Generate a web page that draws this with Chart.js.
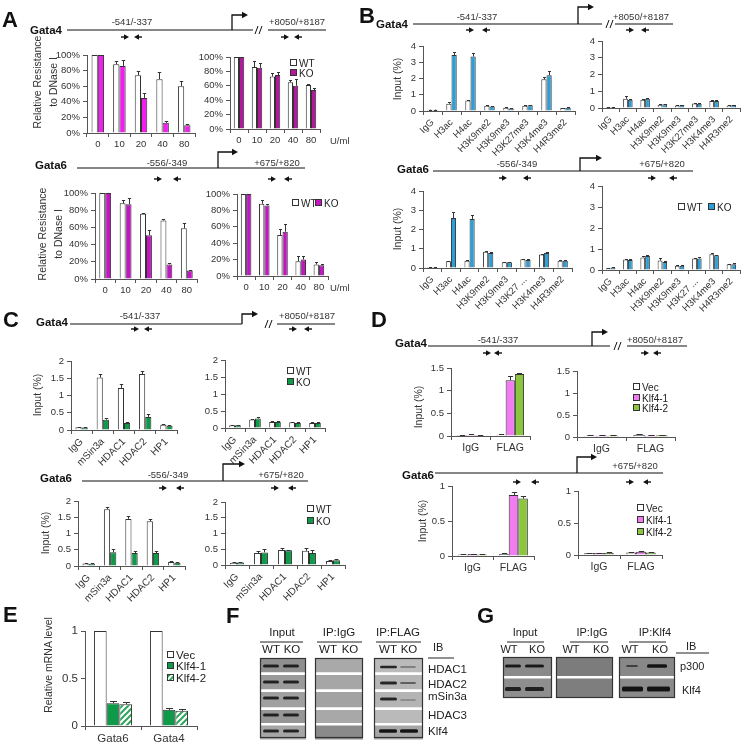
<!DOCTYPE html>
<html><head><meta charset="utf-8">
<script src="https://cdn.jsdelivr.net/npm/chart.js@4.4.1/dist/chart.umd.min.js"></script>
<style>
html,body{margin:0;padding:0;background:#fff;}
#stage{position:relative;width:756px;height:746px;overflow:hidden;background:#fff;}
#stage canvas{position:absolute;}
#ov{position:absolute;left:0;top:0;z-index:5;}
</style></head><body><div id="stage"></div>
<script>
// ---------- DATA ----------
const doseLabels = ['0','10','20','40','80'];
// Panel A: DNase I resistance (%)
const aG4promWT = [100, 88, 74, 69, 60];   const aG4promWTerr = [0, 4, 5, 9, 7];
const aG4promKO = [100, 86, 45, 13, 10];   const aG4promKOerr = [0, 8, 6, 3, 2];
const aG4enhWT  = [100, 86, 73, 65, 61];   const aG4enhWTerr  = [0, 8, 5, 3, 2];
const aG4enhKO  = [100, 85, 75, 60, 54];   const aG4enhKOerr  = [0, 6, 4, 10, 3];
const aG6promWT = [100, 88, 76, 68, 59];   const aG6promWTerr = [0, 4, 1, 2, 6];
const aG6promKO = [100, 87, 51, 17, 10];   const aG6promKOerr = [0, 7, 6, 2, 1];
const aG6enhWT  = [100, 88, 50, 18, 14];   const aG6enhWTerr  = [0, 5, 7, 6, 3];
const aG6enhKO  = [100, 86, 54, 20, 13];   const aG6enhKOerr  = [0, 2, 10, 4, 2];
// Panel B: histone ChIP (Input %)
const histMarks   = ['IgG','H3ac','H4ac','H3K9me2','H3K9me3','H3K27me3','H3K4me3','H4R3me2'];
const histMarksG6 = ['IgG','H3ac','H4ac','H3K9me2','H3K9me3','H3K27 ...','H3K4me3','H4R3me2'];
const bG4promWT = [0.08,0.45,0.65,0.32,0.20,0.32,1.95,0.18]; const bG4promWTerr = [0.01,0.10,0.05,0.03,0.02,0.02,0.15,0.02];
const bG4promKO = [0.08,3.45,3.35,0.28,0.15,0.35,2.20,0.20]; const bG4promKOerr = [0.01,0.20,0.20,0.02,0.02,0.02,0.25,0.02];
const bG4enhWT  = [0.06,0.55,0.50,0.20,0.15,0.27,0.42,0.15]; const bG4enhWTerr  = [0.01,0.15,0.05,0.02,0.02,0.02,0.05,0.02];
const bG4enhKO  = [0.06,0.50,0.55,0.22,0.18,0.25,0.42,0.18]; const bG4enhKOerr  = [0.01,0.05,0.05,0.02,0.02,0.02,0.08,0.02];
const bG6promWT = [0.05,0.35,0.38,0.85,0.30,0.45,0.70,0.38]; const bG6promWTerr = [0.01,0.03,0.03,0.03,0.03,0.03,0.03,0.03];
const bG6promKO = [0.05,2.60,2.55,0.78,0.30,0.42,0.78,0.38]; const bG6promKOerr = [0.01,0.30,0.22,0.03,0.03,0.03,0.03,0.04];
const bG6enhWT  = [0.08,0.50,0.60,0.45,0.20,0.55,0.75,0.27]; const bG6enhWTerr  = [0.01,0.03,0.08,0.10,0.02,0.04,0.04,0.03];
const bG6enhKO  = [0.12,0.48,0.67,0.38,0.20,0.55,0.70,0.27]; const bG6enhKOerr  = [0.02,0.03,0.04,0.04,0.02,0.08,0.03,0.05];
// Panel C: corepressor ChIP (Input %)
const coreps = ['IgG','mSin3a','HDAC1','HDAC2','HP1'];
const cG4promWT = [0.08,1.52,1.22,1.62,0.15]; const cG4promWTerr = [0.01,0.10,0.10,0.10,0.03];
const cG4promKO = [0.07,0.30,0.20,0.38,0.12]; const cG4promKOerr = [0.01,0.05,0.03,0.08,0.03];
const cG4enhWT  = [0.08,0.25,0.18,0.17,0.15]; const cG4enhWTerr  = [0.01,0.02,0.02,0.02,0.03];
const cG4enhKO  = [0.08,0.28,0.18,0.15,0.15]; const cG4enhKOerr  = [0.01,0.05,0.02,0.03,0.03];
const cG6promWT = [0.08,1.75,1.45,1.38,0.12]; const cG6promWTerr = [0.01,0.08,0.10,0.08,0.02];
const cG6promKO = [0.07,0.42,0.40,0.40,0.10]; const cG6promKOerr = [0.01,0.10,0.05,0.06,0.02];
const cG6enhWT  = [0.07,0.38,0.48,0.45,0.13]; const cG6enhWTerr  = [0.01,0.05,0.07,0.08,0.02];
const cG6enhKO  = [0.08,0.40,0.47,0.38,0.15]; const cG6enhKOerr  = [0.02,0.12,0.02,0.10,0.04];
// Panel D: FLAG ChIP (Input %)
const dAbs = ['IgG','FLAG'];
const dG4promVec = [0.02,0.03]; const dG4promVecErr = [0.005,0.01];
const dG4promK1  = [0.03,1.23]; const dG4promK1Err  = [0.005,0.10];
const dG4promK2  = [0.02,1.37]; const dG4promK2Err  = [0.005,0.03];
const dG4enhVec  = [0.03,0.05]; const dG4enhVecErr  = [0.005,0.01];
const dG4enhK1   = [0.03,0.03]; const dG4enhK1Err   = [0.005,0.005];
const dG4enhK2   = [0.03,0.04]; const dG4enhK2Err   = [0.005,0.005];
const dG6promVec = [0.02,0.03]; const dG6promVecErr = [0.005,0.02];
const dG6promK1  = [0.03,0.87]; const dG6promK1Err  = [0.005,0.05];
const dG6promK2  = [0.02,0.82]; const dG6promK2Err  = [0.005,0.04];
const dG6enhVec  = [0.03,0.04]; const dG6enhVecErr  = [0.005,0.005];
const dG6enhK1   = [0.03,0.05]; const dG6enhK1Err   = [0.005,0.005];
const dG6enhK2   = [0.03,0.04]; const dG6enhK2Err   = [0.01,0.005];
// Panel E: relative mRNA
const eGenes = ['Gata6','Gata4'];
const eVec = [1.0, 1.0];
const eK1 = [0.24, 0.17]; const eK1Err = [0.02, 0.02];
const eK2 = [0.23, 0.16]; const eK2Err = [0.02, 0.02];

// ---------- DRAWING ----------
const FF = '"Liberation Sans", Arial, Helvetica, sans-serif';
Chart.defaults.font.family = FF;
const stage = document.getElementById('stage');
const AX = '#555';
const WHITE = '#ffffff';

const errPlugin = {
  id: 'errbars',
  afterDatasetsDraw(chart) {
    const ctx = chart.ctx, ys = chart.scales.y;
    chart.data.datasets.forEach((ds, i) => {
      if (!ds.errors) return;
      const meta = chart.getDatasetMeta(i);
      meta.data.forEach((bar, j) => {
        const e = ds.errors[j];
        if (!e) return;
        const top = Math.round(ys.getPixelForValue(ds.data[j] + e)) + 0.5;
        const x = Math.round(bar.x) + 0.5;
        const w = Math.max(3, bar.width * 0.55);
        ctx.save();
        ctx.strokeStyle = '#333'; ctx.lineWidth = 1;
        ctx.beginPath();
        ctx.moveTo(x, bar.y); ctx.lineTo(x, top);
        ctx.moveTo(x - w / 2, top); ctx.lineTo(x + w / 2, top);
        ctx.stroke();
        ctx.restore();
      });
    });
  }
};

function mk(geom, labels, sets, o) {
  const [x0, yt, x1, yb] = geom;
  const yw = 46, padT = 10, padR = 16, xh = o.xh || 28;
  const W = x1 - x0 + yw + padR, H = yb - yt + padT + xh;
  const c = document.createElement('canvas');
  c.width = W; c.height = H;
  c.style.left = (x0 - yw) + 'px'; c.style.top = (yt - padT) + 'px';
  c.style.width = W + 'px'; c.style.height = H + 'px';
  stage.appendChild(c);
  const tf = o.tfs || 9.5;
  return new Chart(c, {
    type: 'bar',
    data: {
      labels: labels,
      datasets: sets.map(s => ({
        label: s.label, data: s.data, errors: s.err,
        backgroundColor: s.color, borderColor: '#333', borderWidth: 1,
        borderSkipped: 'start',
        categoryPercentage: o.cat, barPercentage: 1
      }))
    },
    options: {
      responsive: false, animation: false, devicePixelRatio: 1,
      layout: { padding: { left: 0, top: padT, right: padR, bottom: 0 } },
      plugins: { legend: { display: false }, tooltip: { enabled: false } },
      scales: {
        x: {
          grid: { display: true, drawOnChartArea: false, drawTicks: true, tickLength: 4, color: AX, offset: true },
          border: { color: AX, width: 1 },
          ticks: { font: { size: o.xfs || tf, family: FF }, color: '#333', maxRotation: o.rot || 0, minRotation: o.rot || 0, autoSkip: false, padding: 2 },
          afterFit: s => { s.height = xh; s.paddingLeft = 0; s.paddingRight = 0; }
        },
        y: {
          min: 0, max: o.max,
          grid: { display: true, drawOnChartArea: false, drawTicks: true, tickLength: 4, color: AX },
          border: { color: AX, width: 1 },
          ticks: { stepSize: o.step, font: { size: tf, family: FF }, color: '#333', padding: 3,
                   callback: o.fmt || (v => String(v)) },
          afterFit: s => { s.width = yw; s.paddingTop = 0; s.paddingBottom = 0; }
        }
      }
    },
    plugins: [errPlugin]
  });
}

const pct = v => v + '%';
// colours
const magL = '#f01ff0', magR = '#b4189e', mag6 = '#c414c4';
const blue = '#2b9fd8', green = '#0f9a4a', pink = '#f07cf0', lime = '#8cc63f';

// Panel A
mk([87, 55, 195, 133], doseLabels, [
  { label: 'WT', data: aG4promWT, err: aG4promWTerr, color: WHITE },
  { label: 'KO', data: aG4promKO, err: aG4promKOerr, color: magL }], { max: 100, step: 20, fmt: pct, cat: 0.58 });
mk([230, 57, 320, 129], doseLabels, [
  { label: 'WT', data: aG4enhWT, err: aG4enhWTerr, color: WHITE },
  { label: 'KO', data: aG4enhKO, err: aG4enhKOerr, color: magR }], { max: 100, step: 20, fmt: pct, cat: 0.58 });
mk([95, 193, 197, 279], doseLabels, [
  { label: 'WT', data: aG6promWT, err: aG6promWTerr, color: WHITE },
  { label: 'KO', data: aG6promKO, err: aG6promKOerr, color: mag6 }], { max: 100, step: 20, fmt: pct, cat: 0.58 });
mk([237, 194, 328, 276], doseLabels, [
  { label: 'WT', data: aG6enhWT, err: aG6enhWTerr, color: WHITE },
  { label: 'KO', data: aG6enhKO, err: aG6enhKOerr, color: mag6 }], { max: 100, step: 20, fmt: pct, cat: 0.58 });

// Panel B
mk([423, 46, 575, 111], histMarks, [
  { label: 'WT', data: bG4promWT, err: bG4promWTerr, color: WHITE },
  { label: 'KO', data: bG4promKO, err: bG4promKOerr, color: blue }], { max: 4, step: 1, cat: 0.55, rot: 45, xh: 52, xfs: 9.5 });
mk([602, 41, 740, 108], histMarks, [
  { label: 'WT', data: bG4enhWT, err: bG4enhWTerr, color: WHITE },
  { label: 'KO', data: bG4enhKO, err: bG4enhKOerr, color: blue }], { max: 4, step: 1, cat: 0.55, rot: 45, xh: 52, xfs: 9.5 });
mk([423, 191, 572, 268], histMarksG6, [
  { label: 'WT', data: bG6promWT, err: bG6promWTerr, color: WHITE },
  { label: 'KO', data: bG6promKO, err: bG6promKOerr, color: blue }], { max: 4, step: 1, cat: 0.55, rot: 45, xh: 52, xfs: 9.5 });
mk([602, 186, 740, 270], histMarksG6, [
  { label: 'WT', data: bG6enhWT, err: bG6enhWTerr, color: WHITE },
  { label: 'KO', data: bG6enhKO, err: bG6enhKOerr, color: blue }], { max: 4, step: 1, cat: 0.55, rot: 45, xh: 52, xfs: 9.5 });

// Panel C
mk([71, 361, 177, 430], coreps, [
  { label: 'WT', data: cG4promWT, err: cG4promWTerr, color: WHITE },
  { label: 'KO', data: cG4promKO, err: cG4promKOerr, color: green }], { max: 2, step: 0.5, cat: 0.58, rot: 45, xh: 44, xfs: 10 });
mk([225, 360, 325, 428], coreps, [
  { label: 'WT', data: cG4enhWT, err: cG4enhWTerr, color: WHITE },
  { label: 'KO', data: cG4enhKO, err: cG4enhKOerr, color: green }], { max: 2, step: 0.5, cat: 0.58, rot: 45, xh: 44, xfs: 10 });
mk([78, 501, 185, 566], coreps, [
  { label: 'WT', data: cG6promWT, err: cG6promWTerr, color: WHITE },
  { label: 'KO', data: cG6promKO, err: cG6promKOerr, color: green }], { max: 2, step: 0.5, cat: 0.58, rot: 45, xh: 44, xfs: 10 });
mk([225, 502, 345, 565], coreps, [
  { label: 'WT', data: cG6enhWT, err: cG6enhWTerr, color: WHITE },
  { label: 'KO', data: cG6enhKO, err: cG6enhKOerr, color: green }], { max: 2, step: 0.5, cat: 0.58, rot: 45, xh: 44, xfs: 10 });

// Panel D
mk([451, 368, 530, 436], dAbs, [
  { label: 'Vec', data: dG4promVec, err: dG4promVecErr, color: WHITE },
  { label: 'Klf4-1', data: dG4promK1, err: dG4promK1Err, color: pink },
  { label: 'Klf4-2', data: dG4promK2, err: dG4promK2Err, color: lime }], { max: 1.5, step: 0.5, cat: 0.7, xfs: 10.5 });
mk([577, 371, 675, 437], dAbs, [
  { label: 'Vec', data: dG4enhVec, err: dG4enhVecErr, color: WHITE },
  { label: 'Klf4-1', data: dG4enhK1, err: dG4enhK1Err, color: pink },
  { label: 'Klf4-2', data: dG4enhK2, err: dG4enhK2Err, color: lime }], { max: 1.5, step: 0.5, cat: 0.7, xfs: 10.5 });
mk([452, 486, 534, 556], dAbs, [
  { label: 'Vec', data: dG6promVec, err: dG6promVecErr, color: WHITE },
  { label: 'Klf4-1', data: dG6promK1, err: dG6promK1Err, color: pink },
  { label: 'Klf4-2', data: dG6promK2, err: dG6promK2Err, color: lime }], { max: 1, step: 0.5, cat: 0.7, xfs: 10.5 });
mk([578, 491, 662, 555], dAbs, [
  { label: 'Vec', data: dG6enhVec, err: dG6enhVecErr, color: WHITE },
  { label: 'Klf4-1', data: dG6enhK1, err: dG6enhK1Err, color: pink },
  { label: 'Klf4-2', data: dG6enhK2, err: dG6enhK2Err, color: lime }], { max: 1, step: 0.5, cat: 0.7, xfs: 10.5 });

// Panel E (hatched pattern for Klf4-2)
function hatch() {
  const p = document.createElement('canvas'); p.width = 6; p.height = 6;
  const g = p.getContext('2d');
  g.fillStyle = '#fff'; g.fillRect(0, 0, 6, 6);
  g.strokeStyle = '#2aa65a'; g.lineWidth = 2;
  g.beginPath();
  g.moveTo(0, 6); g.lineTo(6, 0);
  g.moveTo(-3, 3); g.lineTo(3, -3);
  g.moveTo(3, 9); g.lineTo(9, 3);
  g.stroke();
  return g.createPattern(p, 'repeat');
}
mk([85, 631, 197, 726], eGenes, [
  { label: 'Vec', data: eVec, err: null, color: WHITE },
  { label: 'Klf4-1', data: eK1, err: eK1Err, color: green },
  { label: 'Klf4-2', data: eK2, err: eK2Err, color: hatch() }], { max: 1, step: 0.5, cat: 0.68, tfs: 11.5, xfs: 11.5 });

// ---------- SVG overlay: labels, gene maps, legends, blots ----------
const S = [];
function T(x, y, s, o) {
  o = o || {};
  S.push(`<text x="${x}" y="${y}" font-size="${o.fs || 10}"${o.b ? ' font-weight="bold"' : ''} text-anchor="${o.a || 'start'}" fill="${o.c || '#222'}">${s}</text>`);
}
function VT(cx, cy, lines, fs) {
  const lh = fs * 1.45;
  const n = lines.length;
  lines.forEach((ln, i) => {
    const x = cx + (i - (n - 1) / 2) * lh;
    S.push(`<text x="0" y="0" font-size="${fs}" text-anchor="middle" dominant-baseline="central" fill="#333" transform="translate(${x},${cy}) rotate(-90)">${ln}</text>`);
  });
}
function L(x1, y1, x2, y2, w, c) {
  S.push(`<line x1="${x1}" y1="${y1}" x2="${x2}" y2="${y2}" stroke="${c || '#111'}" stroke-width="${w || 1.2}"/>`);
}
function prom(x, y, top, end) {
  S.push(`<path d="M${x} ${y} V${top} H${end - 4}" fill="none" stroke="#111" stroke-width="1.3"/>`);
  S.push(`<polygon points="${end - 6},${top - 3.2} ${end},${top} ${end - 6},${top + 3.2}" fill="#111"/>`);
}
function prR(cx, cy) {
  L(cx - 4, cy, cx, cy, 1.4);
  S.push(`<polygon points="${cx - 1},${cy - 2.8} ${cx + 4},${cy} ${cx - 1},${cy + 2.8}" fill="#111"/>`);
}
function prL(cx, cy) {
  L(cx + 4, cy, cx, cy, 1.4);
  S.push(`<polygon points="${cx + 1},${cy - 2.8} ${cx - 4},${cy} ${cx + 1},${cy + 2.8}" fill="#111"/>`);
}
function brk(x, y) { L(x, y + 4, x + 3, y - 4, 1); L(x + 4, y + 4, x + 7, y - 4, 1); }
function leg(x, y, items, horiz, fs) {
  fs = fs || 10;
  let cx = x, cy = y;
  items.forEach(it => {
    S.push(`<rect x="${cx + 0.5}" y="${cy - 3.5}" width="6" height="6" fill="${it.c}" stroke="#333" stroke-width="1"/>`);
    T(cx + 9, cy + fs * 0.36, it.t, { fs: fs });
    if (horiz) cx += it.w; else cy += it.dy;
  });
}
const G = (x, y, s) => T(x, y, s, { fs: 11.5, b: true, c: '#111' });
const PL = (x, y, s) => T(x, y, s, { fs: 22, b: true, c: '#111' });
const SM = (cx, y, s) => T(cx, y, s, { fs: 9.5, a: 'middle', c: '#333' });

// Panel letters
PL(2, 27, 'A'); PL(359, 23, 'B'); PL(3, 327, 'C'); PL(371, 327, 'D');
PL(3, 622, 'E'); PL(226, 623, 'F'); PL(477, 623, 'G');

// A Gata4 map
G(30, 34, 'Gata4'); L(67, 30, 253, 30); prom(232, 30, 15, 248); brk(255, 30); L(268, 30, 326, 30);
SM(132, 25, '-541/-337'); SM(297, 25, '+8050/+8187');
prR(125, 37); prL(138, 37); prR(285, 37); prL(298, 37);
// A Gata6 map
G(35, 169, 'Gata6'); L(77, 168, 305, 168); prom(218, 168, 152, 238);
SM(167, 166, '-556/-349'); SM(277, 166, '+675/+820');
prR(158, 179); prL(177, 179); prR(272, 179); prL(288, 179);
// B Gata4 map
G(376, 28, 'Gata4'); L(413, 24, 602, 24); prom(578, 24, 7, 594); brk(606, 24); L(615, 24, 673, 24);
SM(477, 20, '-541/-337'); SM(641, 20, '+8050/+8187');
prR(470, 30); prL(486, 30); prR(630, 30); prL(645, 30);
// B Gata6 map
G(397, 173, 'Gata6'); L(433, 171, 693, 171); prom(580, 171, 158, 602);
SM(517, 167, '-556/-349'); SM(662, 167, '+675/+820');
prR(503, 178); prL(527, 178); prR(652, 178); prL(673, 178);
// C Gata4 map
G(36, 326, 'Gata4'); L(70, 324, 242, 324); prom(242, 324, 314, 258); brk(265, 324); L(277, 324, 335, 324);
SM(140, 319, '-541/-337'); SM(307, 319, '+8050/+8187');
prR(135, 329); prL(148, 329); prR(293, 329); prL(308, 329);
// C Gata6 map
G(40, 482, 'Gata6'); L(82, 481, 308, 481); prom(223, 481, 464, 245);
SM(168, 478, '-556/-349'); SM(281, 478, '+675/+820');
prR(163, 488); prL(180, 488); prR(275, 488); prL(292, 488);
// D Gata4 map
G(395, 347, 'Gata4'); L(428, 346, 610, 346); prom(592, 346, 332, 608); brk(614, 346); L(627, 346, 687, 346);
SM(498, 343, '-541/-337'); SM(655, 343, '+8050/+8187');
prR(487, 353); prL(498, 353); prR(645, 353); prL(657, 353);
// D Gata6 map
G(402, 479, 'Gata6'); L(435, 473, 663, 473); prom(577, 473, 457, 597);
SM(635, 469, '+675/+820');
prR(517, 482); prL(535, 482); prR(630, 482); prL(647, 482);

// axis titles
VT(45, 82, ['Relative Resistance', 'to DNase I'], 10.5);
VT(50, 234, ['Relative Resistance', 'to DNase I'], 10.5);
VT(397, 79, ['Input (%)'], 10.5);
VT(397, 229, ['Input (%)'], 10.5);
VT(37, 395, ['Input (%)'], 10.5);
VT(45, 533, ['Input (%)'], 10.5);
VT(418, 407, ['Input (%)'], 10.5);
VT(422, 521, ['Input (%)'], 10.5);
VT(48, 665, ['Relative mRNA level'], 10.5);
T(330, 144, 'U/ml', { fs: 9.5, c: '#333' });
T(330, 291, 'U/ml', { fs: 9.5, c: '#333' });

// legends
leg(290, 63, [{ c: WHITE, t: 'WT', dy: 10 }, { c: magR, t: 'KO', dy: 10 }]);
leg(292, 203, [{ c: WHITE, t: 'WT', w: 23 }, { c: mag6, t: 'KO', w: 23 }], true);
leg(678, 207, [{ c: WHITE, t: 'WT', w: 30 }, { c: blue, t: 'KO', w: 30 }], true);
leg(287, 371, [{ c: WHITE, t: 'WT', dy: 11 }, { c: green, t: 'KO', dy: 11 }]);
leg(307, 509, [{ c: WHITE, t: 'WT', dy: 12 }, { c: green, t: 'KO', dy: 12 }]);
leg(633, 387, [{ c: WHITE, t: 'Vec', dy: 11 }, { c: pink, t: 'Klf4-1', dy: 10 }, { c: lime, t: 'Klf4-2', dy: 10 }]);
leg(637, 508, [{ c: WHITE, t: 'Vec', dy: 12 }, { c: pink, t: 'Klf4-1', dy: 12 }, { c: lime, t: 'Klf4-2', dy: 12 }]);
S.push(`<defs><pattern id="hp" width="4" height="4" patternUnits="userSpaceOnUse" patternTransform="rotate(45)"><rect width="4" height="4" fill="#fff"/><rect width="2" height="4" fill="#2aa65a"/></pattern>
<filter id="bl" x="-20%" y="-100%" width="140%" height="300%"><feGaussianBlur stdDeviation="0.7"/></filter></defs>`);
leg(167, 655, [{ c: WHITE, t: 'Vec', dy: 11 }, { c: green, t: 'Klf4-1', dy: 12 }, { c: 'url(#hp)', t: 'Klf4-2', dy: 12 }], false, 11.5);

// ---------- Western blots (F, G) ----------
function box(x, y, w, h, strips) {
  let yy = y;
  strips.forEach((st, i) => {
    S.push(`<rect x="${x}" y="${yy}" width="${w}" height="${st.h}" fill="${st.c}"/>`);
    yy += st.h;
    if (i < strips.length - 1) { S.push(`<rect x="${x}" y="${yy}" width="${w}" height="2.5" fill="#fff"/>`); yy += 2.5; }
  });
  S.push(`<rect x="${x + 0.5}" y="${y + 0.5}" width="${w - 1}" height="${h - 1}" fill="none" stroke="#333" stroke-width="1.2"/>`);
}
function band(x, y, w, h, op) {
  S.push(`<rect x="${x}" y="${y - h / 2}" width="${w}" height="${h}" rx="1.5" fill="#111" opacity="${op}" filter="url(#bl)"/>`);
}
function hdr(cx, y, s, ul, lanes, fs) {
  T(cx, y, s, { fs: fs, a: 'middle', c: '#222' });
  L(ul[0], y + 6, ul[1], y + 6, 1, '#222');
  T(lanes[0], y + 17, 'WT', { fs: fs, a: 'middle', c: '#222' });
  T(lanes[1], y + 17, 'KO', { fs: fs, a: 'middle', c: '#222' });
}
// F
hdr(282, 636, 'Input', [260, 303], [271, 292], 11.5);
hdr(339, 636, 'IP:IgG', [317, 362], [328, 350], 11.5);
hdr(398, 636, 'IP:FLAG', [376, 421], [388, 409], 11.5);
T(433, 651, 'IB', { fs: 11, c: '#222' }); L(428, 658, 454, 658, 1, '#222');
const fStrips = (a) => [{ h: 14.5, c: a[0] }, { h: 14.5, c: a[1] }, { h: 15.5, c: a[2] }, { h: 13, c: a[3] }, { h: 14, c: a[4] }];
box(260, 658, 46, 80, fStrips(['#8f8f8f', '#9a9a9a', '#a0a0a0', '#969696', '#a6a6a6']));
box(315, 658, 48, 80, fStrips(['#a9a9a9', '#a6a6a6', '#a3a3a3', '#a8a8a8', '#8a8a8a']));
box(374, 658, 49, 80, fStrips(['#bababa', '#b6b6b6', '#b4b4b4', '#bababa', '#a6a6a6']));
[666, 682, 698, 715, 731].forEach(y => { band(263, y, 16, 3, 0.85); band(283, y, 16, 3, 0.85); });
band(380, 667, 17, 2.6, 0.85); band(400, 667, 16, 1.5, 0.45);
band(380, 683, 17, 3, 0.85); band(400, 683, 16, 2, 0.5);
band(380, 699, 17, 3, 0.85); band(400, 700, 16, 1.5, 0.3);
band(379, 731, 18, 3.5, 0.95); band(400, 731, 18, 3.5, 0.95);
[['HDAC1', 673], ['HDAC2', 688], ['mSin3a', 700], ['HDAC3', 719], ['Klf4', 735]].forEach(a => T(428, a[1], a[0], { fs: 11.5, c: '#222' }));
// G
hdr(525, 636, 'Input', [507, 544], [509, 537], 11);
hdr(592, 636, 'IP:IgG', [570, 608], [571, 601], 11);
hdr(655, 636, 'IP:Klf4', [629, 666], [630, 660], 11);
T(686, 650, 'IB', { fs: 11, c: '#222' }); L(676, 653, 709, 653, 1, '#222');
box(503, 657, 49, 41, [{ h: 19, c: '#8a8a8a' }, { h: 19.5, c: '#8e8e8e' }]);
box(556, 657, 57, 41, [{ h: 19, c: '#7c7c7c' }, { h: 19.5, c: '#7e7e7e' }]);
box(619, 657, 56, 41, [{ h: 19, c: '#888' }, { h: 19.5, c: '#8a8a8a' }]);
band(505, 666, 16, 3, 0.9); band(525, 666, 19, 3, 0.9);
band(505, 689, 16, 4, 0.85); band(525, 689, 19, 4, 0.85);
band(626, 666, 12, 2, 0.6); band(647, 666, 20, 3.5, 0.95);
band(622, 689, 21, 5, 0.95); band(647, 689, 23, 5, 0.95);
T(680, 670, 'p300', { fs: 11, c: '#222' });
T(682, 694, 'Klf4', { fs: 11, c: '#222' });

const svg = `<svg id="ov" xmlns="http://www.w3.org/2000/svg" width="756" height="746" font-family='${FF}'>${S.join('')}</svg>`;
stage.insertAdjacentHTML('beforeend', svg);
</script>
</body></html>
